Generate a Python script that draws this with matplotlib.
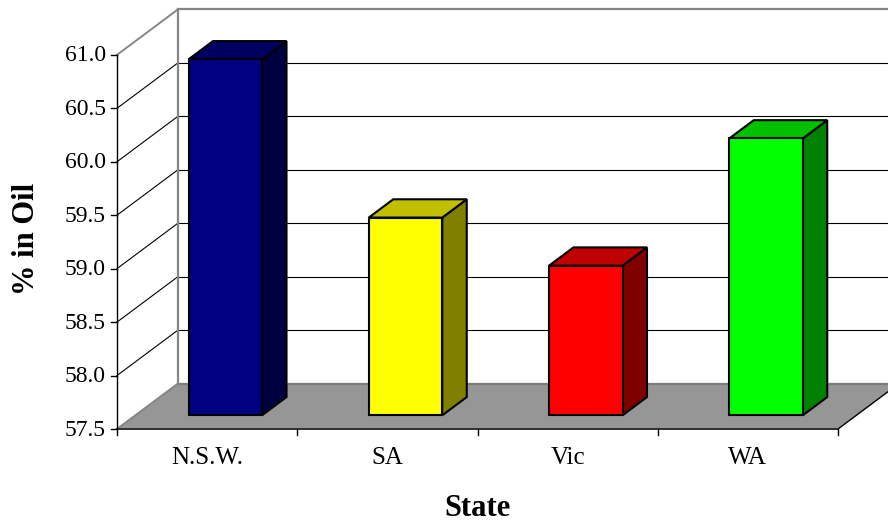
import matplotlib.pyplot as plt
from matplotlib.patches import Polygon

plt.rcParams['font.family'] = ['Liberation Serif', 'DejaVu Serif']

states = ['N.S.W.', 'SA', 'Vic', 'WA']
oil_pct = [60.83, 59.35, 58.90, 60.09]
front_colors = ['#000080', '#FFFF00', '#FF0000', '#00FF00']
top_colors = ['#000060', '#C0C000', '#C00000', '#00C000']
side_colors = ['#000040', '#808000', '#800000', '#008000']
y_ticks = [57.5, 58.0, 58.5, 59.0, 59.5, 60.0, 60.5, 61.0]

# pixel scale of the oblique chart box
px_per_cat = 180.25
px_per_unit = 106.9
y_min = 57.5
y_max = 61.0

# depth of the box in data units
depth_x = 61 / px_per_cat
depth_y = 45.5 / px_per_unit

fig = plt.figure(figsize=(8.88, 5.22), dpi=100)
ax = fig.add_axes([0, 0, 1, 1])
ax.set_xlim(-117 / px_per_cat, (888 - 117) / px_per_cat)
ax.set_ylim(y_min - (522 - 429) / px_per_unit, y_min + 429 / px_per_unit)
ax.axis('off')

n = len(states)
GRAY = '#868686'

# floor
floor = [(0, y_min), (n, y_min), (n + depth_x, y_min + depth_y), (depth_x, y_min + depth_y)]
ax.add_patch(Polygon(floor, closed=True, fc='#969696', ec='none', zorder=1))
ax.plot([depth_x, n + depth_x], [y_min + depth_y] * 2, color='#7c7c7c', lw=1.6, zorder=1.5)
ax.plot([0, depth_x], [y_min, y_min + depth_y], color=GRAY, lw=1.4, zorder=1.5)
ax.plot([n, n + depth_x], [y_min, y_min + depth_y], color='black', lw=1, zorder=1.5)
ax.plot([0, n], [y_min, y_min], color='#303030', lw=1.4, zorder=1.6)

# back wall and gridlines
for t in y_ticks[1:-1]:
    ax.plot([0, depth_x], [t, t + depth_y], color='black', lw=0.8, zorder=1)
    ax.plot([depth_x, n + depth_x], [t + depth_y] * 2, color='black', lw=0.8, zorder=1)
ax.plot([0, depth_x], [y_max, y_max + depth_y], color=GRAY, lw=1.4, zorder=1.5)
ax.plot([depth_x, n + depth_x], [y_max + depth_y] * 2, color=GRAY, lw=1.6, zorder=1.5)
ax.plot([depth_x, depth_x], [y_min + depth_y, y_max + depth_y], color=GRAY, lw=1.6, zorder=1.5)

# value axis
ax.plot([0, 0], [y_min, y_max], color='black', lw=1, zorder=2)
for t in y_ticks:
    ax.plot([-6 / px_per_cat, 0], [t, t], color='black', lw=1, zorder=2)
    ax.text(-11 / px_per_cat, t - 1 / px_per_unit, f'{t:.1f}', ha='right', va='center', fontsize=17, color='black')

# category axis
for i in range(n + 1):
    ax.plot([i, i], [y_min, y_min - 6 / px_per_unit], color='black', lw=1, zorder=2)
for i, name in enumerate(states):
    ax.text(i + 0.5, y_min - 29 / px_per_unit, name, ha='center', va='center', fontsize=18, color='black')

# bars, front face sits partway into the box depth
inset = 0.30
bar_left = 71.5 / px_per_cat
bar_width = 73.5 / px_per_cat
bar_dx = 24.5 / px_per_cat
bar_dy = 18.3 / px_per_unit
base = y_min + inset * depth_y
for i, v in enumerate(oil_pct):
    x0 = i + bar_left
    x1 = x0 + bar_width
    y1 = v + inset * depth_y
    front = [(x0, base), (x1, base), (x1, y1), (x0, y1)]
    top = [(x0, y1), (x1, y1), (x1 + bar_dx, y1 + bar_dy), (x0 + bar_dx, y1 + bar_dy)]
    side = [(x1, base), (x1 + bar_dx, base + bar_dy), (x1 + bar_dx, y1 + bar_dy), (x1, y1)]
    for pts, col in [(side, side_colors[i]), (top, top_colors[i]), (front, front_colors[i])]:
        ax.add_patch(Polygon(pts, closed=True, fc=col, ec='black', lw=1.5, joinstyle='miter', zorder=3 + i))

# axis titles
ax.text(360 / px_per_cat, y_min - 80 / px_per_unit, 'State', ha='center', va='center',
        fontsize=22, fontweight='bold', color='black')
ax.text(-90 / px_per_cat, y_min + (429 - 239) / px_per_unit, '% in Oil', rotation=90, ha='center', va='center',
        fontsize=22, fontweight='bold', color='black')

fig.savefig('out.png', dpi=100)
